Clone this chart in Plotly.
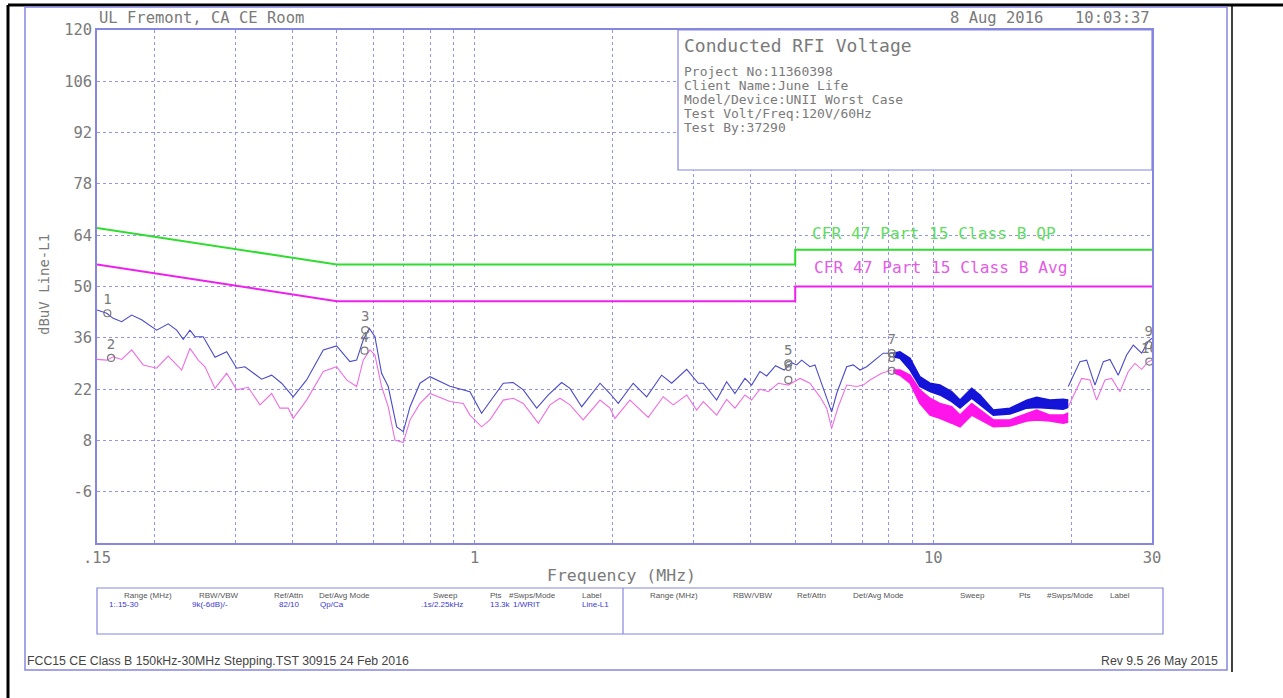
import math
import plotly.graph_objects as go

# ---------------- data ----------------
x_limits = [0.15, 30]
y_limits = [-20, 120]
x_tick_vals = [0.15, 0.2, 0.3, 0.4, 0.5, 0.6, 0.7, 0.8, 0.9, 1, 2, 3, 4, 5, 6, 7, 8, 9, 10, 20, 30]
x_tick_text = [".15", "", "", "", "", "", "", "", "", "1", "", "", "", "", "", "", "", "", "10", "", "30"]
y_tick_vals = [-6, 8, 22, 36, 50, 64, 78, 92, 106, 120]
y_tick_text = ["-6", "8", "22", "36", "50", "64", "78", "92", "106", "120"]

# limit lines
qp_freq = [0.15, 0.5, 5, 5, 30]
qp_level = [66, 56, 56, 60, 60]
avg_freq = [0.15, 0.5, 5, 5, 30]
avg_level = [56, 46, 46, 50, 50]

# peak (blue) trace, low-frequency part
blue_lo_freq = [0.150, 0.1575, 0.1627, 0.1698, 0.1785, 0.1877, 0.2024, 0.2145, 0.2238, 0.2313,
                0.2392, 0.2453, 0.2557, 0.2713, 0.2877, 0.3025, 0.3153, 0.3429, 0.3606, 0.3791,
                0.4018, 0.4298, 0.4673, 0.4996, 0.5342, 0.5525, 0.5711, 0.5887, 0.6057, 0.6263,
                0.6475, 0.6757, 0.6985, 0.7225, 0.7596, 0.7985, 0.8829, 0.9439, 0.9761, 1.035,
                1.079, 1.154, 1.213, 1.276, 1.365, 1.447, 1.547, 1.613, 1.711, 1.876,
                1.972, 2.056, 2.216, 2.371, 2.556, 2.688, 2.899, 3.073, 3.151, 3.370,
                3.543, 3.694, 3.884, 4.017, 4.188, 4.332, 4.53, 4.73, 4.911, 5.036,
                5.164, 5.383, 5.521, 5.710, 5.855, 6.004, 6.156, 6.474, 6.692, 6.921,
                7.157, 7.398, 7.780, 8.180]
blue_lo_level = [43.6, 42.7, 41.3, 40.4, 42.2, 40.9, 38.1, 39.8, 38.1, 35.6,
                 38.1, 36.3, 36.3, 30.7, 32.2, 27.7, 28.1, 24.7, 25.8, 23.6,
                 19.9, 24.5, 32.7, 33.8, 29.5, 29.9, 35.4, 38.6, 36.3, 26.3,
                 22.7, 11.7, 10.4, 17.2, 23.6, 25.4, 22.8, 21.8, 21.3, 15.4,
                 18.6, 23.6, 23.8, 21.8, 16.8, 20.4, 23.8, 22.2, 17.2, 23.6,
                 20.8, 18.1, 23.6, 19.9, 25.8, 23.6, 27.4, 23.6, 23.6, 19.0,
                 24.0, 20.8, 24.9, 23.1, 26.8, 25.6, 28.4, 27.2, 29.2, 28.6,
                 29.9, 28.1, 28.6, 23.6, 19.9, 15.8, 20.8, 28.1, 28.6, 27.2,
                 28.1, 29.5, 31.8, 31.8]

# blue trace, high-frequency part
blue_hi_freq = [19.70, 20.89, 21.61, 22.53, 23.49, 24.29, 25.32, 26.41, 27.31, 28.48, 29.44, 30.0]
blue_hi_level = [22.7, 29.5, 29.9, 23.1, 29.5, 30.1, 25.8, 31.3, 34.0, 31.8, 35.0, 35.9]

# dense-sweep band region (upper / lower envelope)
band_freq = [8.18, 8.46, 8.90, 9.35, 9.84, 10.34, 10.97, 11.44, 12.13, 12.65,
             13.52, 14.70, 15.99, 16.81, 17.97, 19.21, 19.70]
blue_band_hi = [31.8, 32.2, 30.4, 25.4, 23.6, 23.1, 21.3, 19.0, 22.2, 20.4,
                16.3, 16.8, 19.0, 19.8, 19.0, 19.2, 19.0]
blue_band_lo = [30.8, 30.4, 27.2, 22.7, 21.3, 20.4, 18.6, 16.8, 19.5, 17.7,
                14.9, 15.2, 16.8, 17.0, 16.8, 16.5, 17.0]
pink_band_hi = [27.2, 27.2, 25.8, 21.8, 19.5, 18.1, 17.2, 14.9, 18.1, 16.3,
                13.6, 13.6, 15.4, 16.3, 14.9, 14.9, 15.5]
pink_band_lo = [26.5, 25.8, 23.6, 18.1, 14.9, 14.0, 12.7, 11.7, 14.9, 13.6,
                11.7, 11.9, 13.3, 13.6, 13.3, 12.7, 13.0]

# average (pink) trace, low-frequency part
pink_lo_freq = [0.150, 0.1575, 0.1627, 0.1698, 0.1785, 0.1892, 0.2024, 0.2145, 0.2295, 0.2392,
                0.2494, 0.2580, 0.2713, 0.2877, 0.3025, 0.3206, 0.3400, 0.3606, 0.3759, 0.3920,
                0.4018, 0.4298, 0.4673, 0.4996, 0.5256, 0.5525, 0.5711, 0.5908, 0.6057, 0.6263,
                0.6475, 0.6698, 0.6985, 0.7225, 0.7596, 0.7985, 0.8829, 0.9439, 0.9761, 1.035,
                1.079, 1.154, 1.213, 1.276, 1.376, 1.459, 1.534, 1.613, 1.724, 1.876,
                1.972, 2.022, 2.180, 2.390, 2.577, 2.710, 2.899, 3.048, 3.151, 3.370,
                3.543, 3.694, 3.884, 4.017, 4.188, 4.367, 4.592, 4.828, 5.121, 5.383,
                5.661, 5.855, 6.004, 6.206, 6.474, 6.807, 7.036, 7.277, 7.719, 8.115]
pink_lo_level = [30.1, 29.9, 30.8, 30.1, 32.7, 28.6, 27.7, 31.0, 27.2, 33.1,
                 29.9, 28.1, 22.2, 26.3, 21.8, 22.5, 17.7, 20.8, 16.8, 16.8,
                 14.0, 19.0, 26.8, 28.1, 24.5, 22.7, 29.9, 32.7, 31.3, 22.7,
                 17.2, 8.1, 7.4, 13.6, 18.1, 20.8, 18.6, 18.1, 14.9, 11.7,
                 13.6, 19.0, 19.5, 18.1, 12.7, 17.7, 19.5, 17.7, 13.6, 19.0,
                 16.8, 14.0, 19.0, 14.3, 19.9, 17.7, 20.4, 16.3, 18.6, 14.9,
                 19.2, 16.8, 20.4, 19.0, 22.0, 21.3, 23.6, 23.1, 24.9, 23.6,
                 19.9, 16.8, 11.3, 17.2, 23.1, 22.7, 23.1, 24.5, 26.3, 27.2]

pink_hi_freq = [19.70, 21.07, 21.97, 22.72, 23.69, 24.50, 25.54, 26.63, 27.54, 28.48, 29.44, 30.0]
pink_hi_level = [17.2, 24.9, 24.5, 19.0, 24.5, 24.9, 21.3, 26.8, 29.0, 27.4, 29.5, 29.9]

# markers
marker_freq = [0.158, 0.161, 0.577, 0.575, 4.83, 4.83, 8.12, 8.12, 29.5, 29.6]
marker_level = [42.7, 30.5, 38.1, 32.5, 29.0, 24.5, 31.8, 27.0, 34.0, 29.5]
marker_label = ["1", "2", "3", "4", "5", "6", "7", "8", "9", "10"]

# texts
header_left = "UL Fremont, CA CE Room"
header_date = "8 Aug 2016"
header_time = "10:03:37"
info_title = "Conducted RFI Voltage"
info_lines = ["Project No:11360398", "Client Name:June Life", "Model/Device:UNII Worst Case",
              "Test Volt/Freq:120V/60Hz", "Test By:37290"]
qp_label = "CFR 47 Part 15 Class B QP"
avg_label = "CFR 47 Part 15 Class B Avg"
x_title = "Frequency (MHz)"
y_title = "dBuV Line-L1"
table_headers = ["Range (MHz)", "RBW/VBW", "Ref/Attn", "Det/Avg Mode", "Sweep", "Pts", "#Swps/Mode", "Label"]
table_values = ["1:.15-30", "9k(-6dB)/-", "82/10", "Qp/Ca", ".1s/2.25kHz", "13.3k", "1/WRIT", "Line-L1"]
footer_left = "FCC15 CE Class B 150kHz-30MHz Stepping.TST 30915 24 Feb 2016"
footer_right = "Rev 9.5 26 May 2015"

# ---------------- layout geometry (pixels) ----------------
W, H = 1283, 698
PL, PR, PT, PB = 97, 1152, 30, 543


def px(x):
    return (x - PL) / (PR - PL)


def py(y):
    return (PB - y) / (PB - PT)


MONO = "DejaVu Sans Mono"
SANS = "Liberation Sans"
GRAY = "#7a7a7a"
FRAME = "#8686e0"
GRID = "#9494e8"
BLUE_TXT = "#3a3ad0"

fig = go.Figure()

# limit lines
fig.add_trace(go.Scatter(x=qp_freq, y=qp_level, mode="lines",
                         line=dict(color="#2fdc2f", width=2), hoverinfo="skip"))
fig.add_trace(go.Scatter(x=avg_freq, y=avg_level, mode="lines",
                         line=dict(color="#ee20ee", width=2), hoverinfo="skip"))

# pink traces
fig.add_trace(go.Scatter(x=pink_lo_freq, y=pink_lo_level, mode="lines",
                         line=dict(color="#ee70e0", width=1.1), hoverinfo="skip"))
fig.add_trace(go.Scatter(x=band_freq, y=pink_band_lo, mode="lines",
                         line=dict(color="#ff14ea", width=1.5), hoverinfo="skip"))
fig.add_trace(go.Scatter(x=band_freq, y=pink_band_hi, mode="lines", fill="tonexty",
                         fillcolor="#ff14ea", line=dict(color="#ff14ea", width=1.5), hoverinfo="skip"))
fig.add_trace(go.Scatter(x=pink_hi_freq, y=pink_hi_level, mode="lines",
                         line=dict(color="#ee70e0", width=1.1), hoverinfo="skip"))

# blue traces
fig.add_trace(go.Scatter(x=blue_lo_freq, y=blue_lo_level, mode="lines",
                         line=dict(color="#4a4ac8", width=1.1), hoverinfo="skip"))
fig.add_trace(go.Scatter(x=band_freq, y=blue_band_lo, mode="lines",
                         line=dict(color="#1414d8", width=1.5), hoverinfo="skip"))
fig.add_trace(go.Scatter(x=band_freq, y=blue_band_hi, mode="lines", fill="tonexty",
                         fillcolor="#1414d8", line=dict(color="#1414d8", width=1.5), hoverinfo="skip"))
fig.add_trace(go.Scatter(x=blue_hi_freq, y=blue_hi_level, mode="lines",
                         line=dict(color="#4a4ac8", width=1.1), hoverinfo="skip"))

# markers
fig.add_trace(go.Scatter(x=marker_freq, y=marker_level, mode="markers+text",
                         text=marker_label, textposition="top center",
                         textfont=dict(family=MONO, size=14, color=GRAY),
                         marker=dict(symbol="circle-open", size=7, color=GRAY, line=dict(width=1.2, color=GRAY)),
                         cliponaxis=True, hoverinfo="skip"))

shapes = [
    # outer page lines
    dict(type="line", xref="paper", yref="paper", x0=px(8), x1=px(1283), y0=py(5), y1=py(5),
         line=dict(color="black", width=3)),
    dict(type="line", xref="paper", yref="paper", x0=px(8), x1=px(8), y0=py(5), y1=py(698),
         line=dict(color="black", width=3)),
    dict(type="line", xref="paper", yref="paper", x0=px(1232), x1=px(1232), y0=py(5), y1=py(672),
         line=dict(color="black", width=1.5)),
    # inner blue frame
    dict(type="rect", xref="paper", yref="paper", x0=px(25), x1=px(1227), y0=py(670), y1=py(7),
         line=dict(color=FRAME, width=1.5)),
    # info box
    dict(type="rect", xref="paper", yref="paper", x0=px(678), x1=1.0, y0=py(170), y1=1.0,
         line=dict(color=FRAME, width=1.2), fillcolor="white", layer="above"),
    # parameter table
    dict(type="rect", xref="paper", yref="paper", x0=0, x1=px(1163), y0=py(634), y1=py(588),
         line=dict(color=FRAME, width=1.2)),
    dict(type="line", xref="paper", yref="paper", x0=px(623), x1=px(623), y0=py(634), y1=py(588),
         line=dict(color=FRAME, width=1.2)),
]

ann = []


def add_text(text, x, y, size, color=GRAY, family=MONO, xanchor="left", angle=0):
    ann.append(dict(text=text, x=px(x), y=py(y), xref="paper", yref="paper", showarrow=False,
                    xanchor=xanchor, yanchor="middle", textangle=angle,
                    font=dict(family=family, size=size, color=color)))


add_text(header_left, 97, 18, 15.5)
add_text(header_date, 948, 18, 15.5)
add_text(header_time, 1152, 18, 15.5, xanchor="right")
add_text(info_title, 682, 45, 18)
for i, line in enumerate(info_lines):
    add_text(line, 682, 71 + i * 14.2, 13)
add_text(qp_label, 810, 233, 16.2, color="#62dc62")
add_text(avg_label, 812, 267, 16.2, color="#e45ce4")
add_text(x_title, 621, 575, 16.5, xanchor="center")
add_text(y_title, 44, 285, 14, xanchor="center", angle=-90)

hdr_left_x = [122, 197, 272, 317, 431, 488, 507, 580]
val_left_x = [107, 190, 277, 318, 419, 488, 511, 580]
hdr_right_x = [648, 731, 795, 851, 958, 1017, 1045, 1108]
for t, x in zip(table_headers, hdr_left_x):
    add_text(t, x, 595, 8, color="#555555", family=SANS)
for t, x in zip(table_values, val_left_x):
    add_text(t, x, 604, 8, color=BLUE_TXT, family=SANS)
for t, x in zip(table_headers, hdr_right_x):
    add_text(t, x, 595, 8, color="#555555", family=SANS)

add_text(footer_left, 25, 661, 12.3, color="#444444", family=SANS)
add_text(footer_right, 1220, 661, 12.3, color="#444444", family=SANS, xanchor="right")

fig.update_layout(
    width=W, height=H,
    margin=dict(l=PL, r=W - PR, t=PT, b=H - PB, pad=0),
    paper_bgcolor="white", plot_bgcolor="white",
    showlegend=False,
    shapes=shapes, annotations=ann,
    xaxis=dict(type="log", range=[math.log10(x_limits[0]), math.log10(x_limits[1])],
               tickmode="array", tickvals=x_tick_vals, ticktext=x_tick_text,
               showgrid=True, gridcolor=GRID, griddash="dot", gridwidth=1,
               showline=True, mirror=True, linecolor=FRAME, linewidth=1.5,
               ticks="", zeroline=False,
               tickfont=dict(family=MONO, size=15.5, color=GRAY)),
    yaxis=dict(range=y_limits, tickmode="array", tickvals=y_tick_vals, ticktext=y_tick_text,
               showgrid=True, gridcolor=GRID, griddash="dot", gridwidth=1,
               showline=True, mirror=True, linecolor=FRAME, linewidth=1.5,
               ticks="", zeroline=False,
               tickfont=dict(family=MONO, size=15.5, color=GRAY)),
)

# remove the browser's default 8px page margin so the figure sits at the window origin
fig.write_html("out.html",
               config={"displayModeBar": False},
               post_script="document.body.style.margin='0px';document.body.style.overflow='hidden';")
